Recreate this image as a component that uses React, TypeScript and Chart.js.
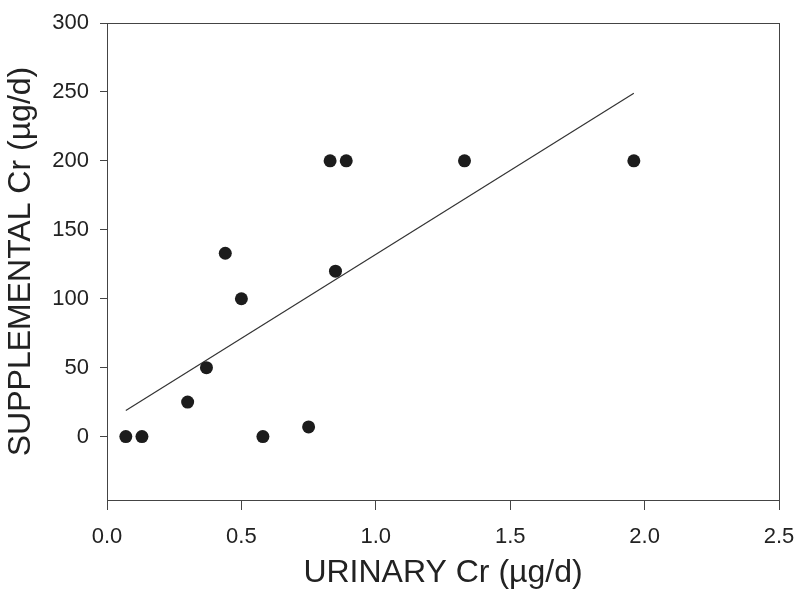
import React, { useEffect, useRef } from "react";
import { Chart, registerables } from "chart.js";

Chart.register(...registerables);

const urinaryCr = [0.07, 0.13, 0.3, 0.37, 0.44, 0.5, 0.58, 0.75, 0.83, 0.85, 0.89, 1.33, 1.96];
const supplementalCr = [0, 0, 25, 50, 133, 100, 0, 7, 200, 120, 200, 200, 200];
const fitX = [0.07, 1.96];
const fitY = [19, 249];
const xTicks = [0, 0.5, 1.0, 1.5, 2.0, 2.5];
const yTicks = [0, 50, 100, 150, 200, 250, 300];
const xTitle = "URINARY Cr (µg/d)";
const yTitle = "SUPPLEMENTAL Cr (µg/d)";

const FONT = "'Liberation Sans', Arial, Helvetica, sans-serif";
const INK = "#222";

const boxPlugin = {
  id: "box",
  afterDatasetsDraw(chart: any) {
    const { ctx, chartArea } = chart;
    ctx.save();
    ctx.strokeStyle = "#444";
    ctx.lineWidth = 1;
    ctx.strokeRect(
      Math.round(chartArea.left) + 0.5,
      Math.round(chartArea.top) + 0.5,
      Math.round(chartArea.right - chartArea.left),
      Math.round(chartArea.bottom - chartArea.top)
    );
    ctx.restore();
  },
};

export default function App() {
  const ref = useRef<HTMLCanvasElement>(null);
  useEffect(() => {
    if (!ref.current) return;
    const chart = new Chart(ref.current, {
      type: "scatter",
      data: {
        datasets: [
          {
            type: "scatter",
            data: urinaryCr.map((x, i) => ({ x, y: supplementalCr[i] })),
            pointRadius: 6.5,
            pointBackgroundColor: "#1c1c1c",
            pointBorderColor: "#1c1c1c",
            pointBorderWidth: 0,
          },
          {
            type: "line",
            data: fitX.map((x, i) => ({ x, y: fitY[i] })),
            borderColor: "#333",
            borderWidth: 1.2,
            pointRadius: 0,
            fill: false,
          } as any,
        ],
      },
      options: {
        responsive: false,
        animation: false,
        layout: { padding: { left: 0, top: 23, right: 19, bottom: 0 } },
        plugins: { legend: { display: false }, tooltip: { enabled: false } },
        scales: {
          x: {
            type: "linear",
            min: 0,
            max: 2.5,
            afterBuildTicks: (s: any) => {
              s.ticks = xTicks.map((v) => ({ value: v }));
            },
            afterFit: (s: any) => {
              s.height = 92;
              s.paddingLeft = 0;
              s.paddingRight = 0;
            },
            ticks: {
              callback: (v: any) => Number(v).toFixed(1),
              font: { family: FONT, size: 22 },
              color: INK,
              padding: 14,
              maxRotation: 0,
            },
            grid: { drawOnChartArea: false, drawTicks: true, tickLength: 10, color: "#444" },
            border: { display: false },
            title: {
              display: true,
              text: xTitle,
              font: { family: FONT, size: 32 },
              color: INK,
              padding: { top: 0, bottom: 0 },
            },
          },
          y: {
            type: "linear",
            min: -46,
            max: 300,
            afterBuildTicks: (s: any) => {
              s.ticks = yTicks.map((v) => ({ value: v }));
            },
            afterFit: (s: any) => {
              s.width = 107;
              s.paddingTop = 0;
              s.paddingBottom = 0;
            },
            ticks: {
              font: { family: FONT, size: 22 },
              color: INK,
              padding: 11,
            },
            grid: { drawOnChartArea: false, drawTicks: true, tickLength: 7, color: "#444" },
            border: { display: false },
            title: {
              display: true,
              text: yTitle,
              font: { family: FONT, size: 32 },
              color: INK,
              padding: { top: 2, bottom: 0 },
            },
          },
        },
      },
      plugins: [boxPlugin],
    });
    return () => chart.destroy();
  }, []);
  return (
    <div style={{ position: "fixed", left: 0, top: 0, width: 798, height: 592, background: "#fff" }}>
      <canvas ref={ref} width={798} height={592} style={{ display: "block" }} />
    </div>
  );
}
